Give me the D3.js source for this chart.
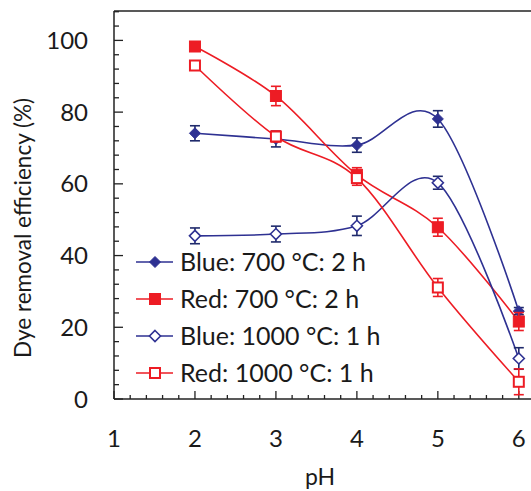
<!DOCTYPE html>
<html><head><meta charset="utf-8">
<script src="https://cdn.jsdelivr.net/npm/d3@7"></script>
<style>body{margin:0;background:#fff}svg{display:block}text{font-family:Lato,"Open Sans",sans-serif;fill:#1a1a1a}</style>
</head><body>
<svg id="c" width="531" height="491"></svg>
<script>
const pH = [2, 3, 4, 5, 6];
const blue700 = [74.1, 72.5, 70.8, 78.1, 24.5];
const blue700Err = [2.1, 2.2, 2.0, 2.3, 1.0];
const red700 = [98.3, 84.5, 62.5, 47.9, 21.6];
const red700Err = [0.8, 2.7, 2.0, 2.5, 2.5];
const blue1000 = [45.5, 46.0, 48.3, 60.3, 11.3];
const blue1000Err = [2.2, 2.2, 2.7, 1.8, 3.0];
const red1000 = [93.0, 73.2, 61.6, 31.1, 4.8];
const red1000Err = [0.8, 1.5, 2.0, 2.5, 3.6];
const seriesNames = ["Blue: 700 °C: 2 h", "Red: 700 °C: 2 h", "Blue: 1000 °C: 1 h", "Red: 1000 °C: 1 h"];
const xTicks = [1, 2, 3, 4, 5, 6];
const yTicks = [0, 20, 40, 60, 80, 100];

const BLUE = "#2e3192", RED = "#ed1c24", BLUEERR = "#1f2a6b";
const series = [
  {name: seriesNames[0], v: blue700, e: blue700Err, color: BLUE, ecol: BLUEERR, shape: "diamond", fill: true},
  {name: seriesNames[1], v: red700, e: red700Err, color: RED, ecol: RED, shape: "square", fill: true},
  {name: seriesNames[2], v: blue1000, e: blue1000Err, color: BLUE, ecol: BLUEERR, shape: "diamond", fill: false},
  {name: seriesNames[3], v: red1000, e: red1000Err, color: RED, ecol: RED, shape: "square", fill: false}
];

const svg = d3.select("#c");
const x = d3.scaleLinear().domain([1, 6.2]).range([114, 535]);
const y = d3.scaleLinear().domain([0, 108.2]).range([399, 11]);

svg.append("line").attr("x1", x(1)).attr("x2", x(6.2)).attr("y1", y(108.2)).attr("y2", y(108.2))
  .attr("stroke", "#222").attr("stroke-width", 1.5);

const yMinor = d3.range(0, 108.2, 4);
svg.append("line").attr("x1", x(1)).attr("x2", x(1)).attr("y1", y(0)).attr("y2", y(108.2)).attr("stroke", "#222").attr("stroke-width", 1.5);
svg.selectAll(".ym").data(yMinor).join("line")
  .attr("x1", x(1)).attr("x2", d => x(1) + (d % 20 === 0 ? 9 : 5))
  .attr("y1", d => y(d)).attr("y2", d => y(d)).attr("stroke", "#222").attr("stroke-width", 1.3);
svg.selectAll(".yl").data(yTicks).join("text")
  .attr("x", 88).attr("y", d => y(d)).attr("dy", "0.36em").attr("text-anchor", "end")
  .attr("font-size", 24).text(d => d);

const xMinor = d3.range(1, 6.21, 0.2).map(d => Math.round(d * 10) / 10);
svg.append("line").attr("x1", x(1)).attr("x2", x(6.2)).attr("y1", y(0)).attr("y2", y(0)).attr("stroke", "#222").attr("stroke-width", 1.5);
svg.selectAll(".xm").data(xMinor).join("line")
  .attr("x1", d => x(d)).attr("x2", d => x(d))
  .attr("y1", y(0)).attr("y2", d => y(0) - (Math.abs(d - Math.round(d)) < 1e-6 ? 8 : 4))
  .attr("stroke", "#222").attr("stroke-width", 1.3);
svg.selectAll(".xl").data(xTicks).join("text")
  .attr("x", d => x(d)).attr("y", 438).attr("dy", "0.36em").attr("text-anchor", "middle")
  .attr("font-size", 24).text(d => d);

svg.append("text").attr("x", 320).attr("y", 477).attr("dy", "0.36em").attr("text-anchor", "middle")
  .attr("font-size", 23).text("pH");
svg.append("text").attr("transform", "translate(23,228) rotate(-90)").attr("dy", "0.36em")
  .attr("text-anchor", "middle").attr("font-size", 22.5).text("Dye removal efficiency (%)");

function marker(g, s, cx, cy) {
  if (s.shape === "diamond") {
    const r = 5.5;
    g.append("path").attr("d", `M${cx},${cy - r}L${cx + r},${cy}L${cx},${cy + r}L${cx - r},${cy}Z`)
      .attr("fill", s.fill ? s.color : "#fff").attr("stroke", s.color).attr("stroke-width", s.fill ? 1 : 1.6);
  } else {
    const r = s.fill ? 5.5 : 5;
    g.append("rect").attr("x", cx - r).attr("y", cy - r).attr("width", 2 * r).attr("height", 2 * r)
      .attr("fill", s.fill ? s.color : "#fff").attr("stroke", s.color).attr("stroke-width", s.fill ? 1 : 2);
  }
}

const line = d3.line().x((d, i) => x(pH[i])).y(d => y(d)).curve(d3.curveCardinal.tension(0));
series.forEach(s => {
  svg.append("path").attr("d", line(s.v)).attr("fill", "none").attr("stroke", s.color).attr("stroke-width", 1.6);
});
series.forEach(s => {
  const g = svg.append("g");
  s.v.forEach((v, i) => {
    const cx = x(pH[i]);
    const lo = y(v - s.e[i]), hi = y(v + s.e[i]);
    g.append("line").attr("x1", cx).attr("x2", cx).attr("y1", lo).attr("y2", hi).attr("stroke", s.ecol).attr("stroke-width", 1.6);
    [lo, hi].forEach(yy => g.append("line").attr("x1", cx - 5).attr("x2", cx + 5).attr("y1", yy).attr("y2", yy).attr("stroke", s.ecol).attr("stroke-width", 1.6));
    marker(g, s, cx, y(v));
  });
});

const lg = svg.append("g");
series.forEach((s, i) => {
  const yy = 262 + i * 37;
  lg.append("line").attr("x1", 136).attr("x2", 173).attr("y1", yy).attr("y2", yy).attr("stroke", s.color).attr("stroke-width", 1.6);
  marker(lg, s, 155, yy);
  lg.append("text").attr("x", 180).attr("y", yy).attr("dy", "0.36em").attr("font-size", 25).text(s.name);
});
</script>
</body></html>
